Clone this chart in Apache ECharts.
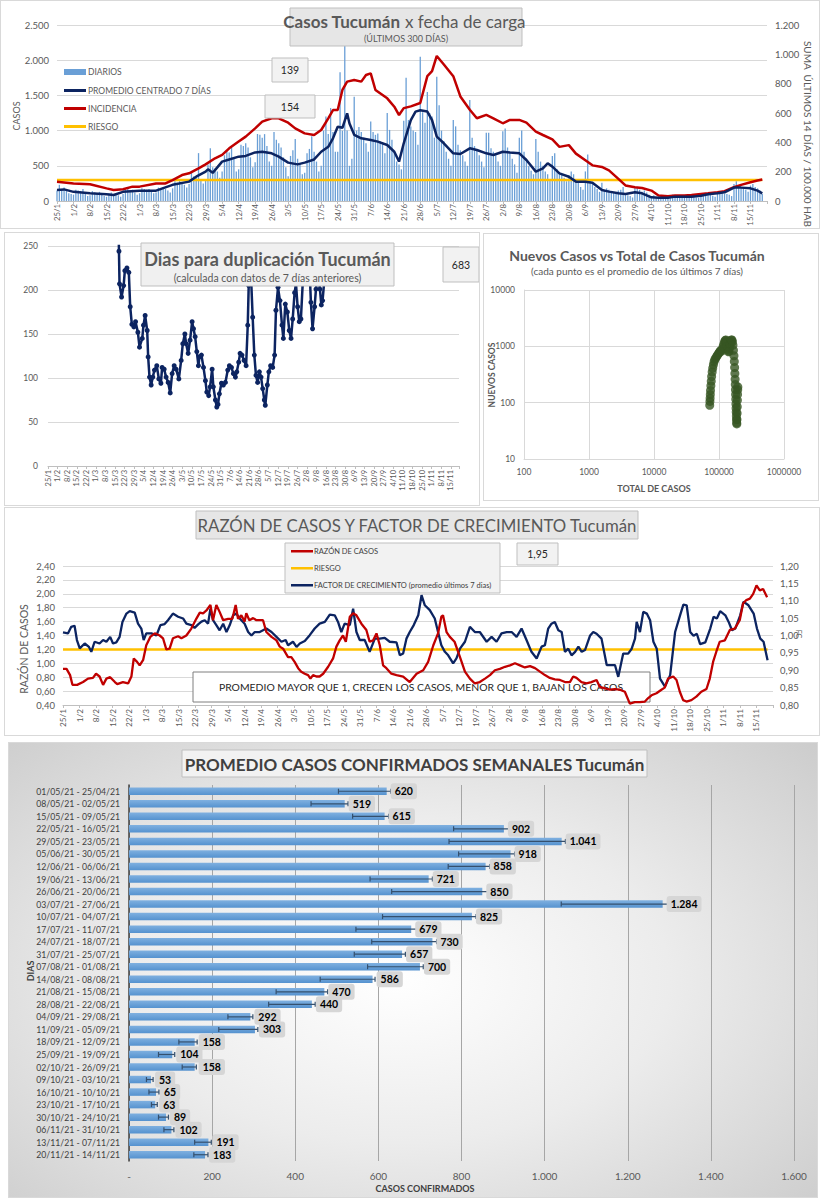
<!DOCTYPE html>
<html><head><meta charset="utf-8">
<script src="https://cdn.jsdelivr.net/npm/echarts/dist/echarts.min.js"></script>
<style>
html,body{margin:0;padding:0;background:#fff;}
body{width:820px;height:1200px;position:relative;overflow:hidden;}
.p{position:absolute;box-sizing:border-box;border:1px solid #d9d9d9;background:#fff;}
#c5{background:radial-gradient(ellipse 75% 80% at 48% 52%, #ffffff 0%, #ececec 45%, #c9c9c9 100%);}
</style></head><body>
<div id="c1" class="p" style="left:0;top:0;width:820px;height:229px"></div>
<div id="c2" class="p" style="left:4px;top:232px;width:476px;height:274px"></div>
<div id="c3" class="p" style="left:483px;top:233px;width:336px;height:268px"></div>
<div id="c4" class="p" style="left:4px;top:507px;width:816px;height:229px"></div>
<div id="c5" class="p" style="left:8px;top:742px;width:810px;height:456px"></div>
<script>
const FONT = "Lato, 'Noto Sans', sans-serif";
const GREY = '#595959';

// ---------- shared x ticks (weekly) ----------
const weekLabels = ['25/1','1/2','8/2','15/2','22/2','1/3','8/3','15/3','22/3','29/3','5/4','12/4','19/4','26/4','3/5','10/5','17/5','24/5','31/5','7/6','14/6','21/6','28/6','5/7','12/7','19/7','26/7','2/8','9/8','16/8','23/8','30/8','6/9','13/9','20/9','27/9','4/10','11/10','18/10','25/10','1/11','8/11','15/11'];

// ---------- chart 1: daily cases (25/1 .. 20/11) ----------
const dailyCases = [
150,230,160,190,140,110,100,
90,160,150,140,170,110,70,
80,140,120,110,130,90,70,
60,110,120,100,100,80,60,
100,160,170,150,160,120,90,
110,180,170,160,170,140,110,
120,190,180,200,170,150,120,
180,280,260,290,250,230,190,
240,400,350,330,680,300,250,
300,520,750,480,460,420,330,
420,650,720,690,760,600,420,
450,800,780,820,760,620,480,
550,950,940,900,950,780,560,
500,980,870,820,760,620,480,
350,640,720,880,600,520,380,
400,680,740,920,700,560,420,
500,1000,1200,950,1320,980,700,
700,1830,1000,2200,1000,500,600,
1480,1000,1050,980,900,820,700,
1130,980,940,960,850,830,680,
1250,1010,870,700,560,520,450,
1140,1750,1150,1060,1000,980,800,
2050,1260,1110,1550,1250,1200,900,
1766,1360,1000,850,700,600,500,
1150,1060,800,720,650,560,500,
1435,900,780,720,650,560,480,
970,970,750,700,650,560,500,
990,1030,760,700,600,520,400,
900,1000,700,600,500,430,380,
880,700,560,500,420,380,300,
640,680,450,400,370,330,280,
370,420,380,300,260,200,160,
420,660,300,260,200,170,130,
260,150,180,160,140,120,100,
150,160,200,110,80,70,50,
200,190,160,130,150,120,90,
70,80,60,50,45,40,30,
50,70,90,70,60,55,45,
70,80,75,65,60,50,45,
90,110,100,95,85,75,60,
120,130,115,105,100,90,70,
240,280,210,190,170,160,130,
220,240,200,180,150,100];

const avg7 = [[0,156],[3,165],[7,130],[14,110],[21,95],[24,85],[28,130],[35,147],[42,147],[49,230],[56,275],[59,345],[63,417],[64,450],[66,400],[70,560],[73,590],[77,630],[80,640],[84,690],[87,700],[91,677],[94,630],[98,545],[102,520],[105,545],[109,590],[112,700],[115,770],[117,890],[119,1055],[121,1040],[123,1245],[124,1100],[126,940],[129,890],[133,866],[136,843],[140,795],[143,700],[145,560],[147,820],[150,1150],[152,1270],[154,1290],[157,1270],[159,1150],[161,914],[164,820],[168,677],[171,668],[175,748],[178,725],[182,677],[185,653],[189,700],[192,690],[196,677],[199,582],[203,417],[206,464],[208,535],[210,488],[213,393],[217,345],[220,275],[224,275],[227,260],[231,156],[234,133],[238,109],[241,100],[245,123],[248,109],[252,52],[255,47],[259,47],[262,62],[266,62],[269,62],[273,76],[276,95],[280,109],[283,123],[287,190],[290,190],[294,180],[297,147],[299,109]];

const incidence = [[0,132],[7,120],[14,114],[21,86],[24,75],[28,80],[32,98],[35,98],[42,120],[46,120],[49,143],[53,177],[56,189],[60,223],[63,250],[67,291],[70,314],[73,359],[77,405],[80,439],[84,495],[87,541],[91,564],[94,564],[98,534],[101,495],[105,461],[109,450],[112,484],[115,564],[117,620],[119,620],[121,757],[123,814],[126,825],[129,814],[131,859],[133,870],[135,757],[140,700],[143,643],[145,586],[147,633],[150,645],[154,668],[157,851],[159,885],[161,989],[164,931],[168,851],[171,713],[175,622],[178,564],[182,587],[185,564],[189,530],[192,553],[196,553],[199,534],[203,473],[206,450],[210,420],[213,369],[217,381],[220,323],[224,278],[227,243],[231,232],[234,209],[238,151],[241,106],[245,94],[248,89],[252,71],[255,37],[259,32],[262,37],[266,37],[269,41],[273,48],[276,53],[280,60],[283,67],[287,94],[290,110],[294,128],[297,140],[299,147]];

const riskCases = [[0,300],[299,300]];

// ---------- chart 2: doubling days ----------
const dupData = [[51.6,262],[51.8,244],[52.2,207],[53.7,192],[55.2,205],[56.1,222],[57.6,225],[59,220],[60,181],[61.2,161],[62.7,158],[63.9,164],[65.6,152],[66.8,135],[68.8,145],[69.7,160],[70.9,171],[72.4,154],[73.1,124],[74.1,101],[75.3,92],[76.5,101],[77.7,109],[79.4,114],[80.9,99],[82.4,94],[83.3,112],[84.8,110],[86.2,101],[87.7,95],[89.2,83],[90.6,105],[92.1,114],[93.5,110],[95.5,99],[97.2,120],[98.4,139],[99.9,150],[100.8,139],[102.3,128],[103.7,143],[105.2,164],[106.2,156],[107.4,147],[108.6,130],[109.8,114],[110.5,124],[112,126],[113.5,112],[114.9,97],[115.9,84],[117.3,80],[118.3,90],[119.8,110],[120.7,90],[122.2,75],[123.2,67],[124.1,70],[125.1,82],[126.6,94],[128,92],[129.5,95],[131.2,109],[132.4,114],[133.9,112],[135.3,105],[136.8,101],[137.8,107],[139.2,118],[140.2,128],[141.6,126],[143.1,120],[144.6,114],[145.8,160],[146.5,205],[147.3,275],[148.4,207],[149.4,169],[150.6,126],[151.8,103],[153,95],[154.3,107],[155.5,101],[156.7,88],[157.9,75],[158.6,69],[160.1,92],[161.2,107],[162.5,114],[164,112],[165.4,126],[166.4,177],[167.9,203],[169.3,188],[170.8,160],[171.8,145],[173.2,184],[174.7,175],[176.1,154],[177.4,145],[178.6,167],[180,197],[181,207],[182.2,181],[183.4,164],[184.6,167],[185.9,207],[187.1,275],[188.3,211],[189.5,270],[190.7,232],[191.9,186],[193.1,156],[194.6,181],[195.6,201],[197,220],[198.5,201],[199.5,183],[200.4,188],[201.7,211],[202.3,290]];

// ---------- chart 3: new vs total (log-log) ----------
const scatterPts = [[72000,90],[72500,105],[73000,120],[73500,140],[74000,165],[75000,200],[76000,240],[77000,290],[78500,350],[80000,410],[82000,470],[84000,530],[86000,580],[89000,620],[92000,660],[95000,700],[98000,740],[101000,780],[104000,820],[107000,850],[110000,820],[113000,900],[116000,1000],[119000,1100],[122000,1200],[125000,1280],[128000,1300],[131000,1200],[134000,1000],[137000,880],[140000,800],[143000,820],[146000,950],[149000,1100],[152000,1220],[155000,1300],[158000,1300],[161000,1200],[164000,1050],[167000,850],[170000,680],[172000,540],[174000,420],[175500,330],[177000,260],[178000,210],[179000,170],[180000,140],[181000,115],[182000,95],[183000,80],[184000,68],[185000,58],[186000,50],[187000,44],[188000,42],[189000,50],[190000,65],[191000,85],[192000,110],[193000,140],[194000,170],[195000,190]];

// ---------- chart 4: ratio & growth factor ----------
const ratioCases = [[0,0.92],[1.5,0.92],[3,0.83],[4,0.69],[6,0.69],[8.5,0.73],[10.6,0.78],[12.7,0.79],[14,0.85],[15.5,0.81],[17,0.69],[18.4,0.78],[20,0.80],[22,0.73],[23,0.70],[25.4,0.73],[27.6,0.71],[29,0.81],[30,1.07],[31.4,1.02],[32.5,0.97],[34,1.05],[35.3,1.26],[37,1.38],[38.9,1.43],[41,1.40],[42.4,1.36],[43.8,1.20],[45.2,1.21],[46.6,1.36],[48.8,1.39],[50.2,1.36],[52.3,1.40],[54.4,1.50],[56.5,1.64],[58,1.73],[59.4,1.72],[60.8,1.76],[62.5,1.84],[63.6,1.62],[65,1.84],[66.4,1.74],[67.9,1.62],[70,1.64],[71.8,1.64],[73.2,1.84],[74.2,1.64],[75.6,1.69],[77,1.60],[77.7,1.72],[79,1.62],[80.6,1.65],[82,1.62],[84.8,1.62],[86.2,1.45],[88.4,1.38],[90.5,1.33],[91.9,1.24],[93.3,1.21],[95.4,1.09],[96.8,1.09],[98.2,1.02],[99.7,0.93],[101,0.88],[102.5,0.85],[103.9,0.83],[104.9,0.78],[106,0.83],[107.4,0.81],[108.8,0.81],[110.3,0.85],[112.4,0.95],[114.5,1.07],[115.9,1.24],[117.3,1.33],[118.7,1.40],[119.9,1.31],[121.6,1.67],[123,1.72],[124.4,1.69],[126.5,1.57],[128.6,1.48],[130,1.31],[131.5,1.33],[132.9,1.43],[134.3,1.26],[135.7,0.97],[137.1,0.93],[139.2,0.85],[141.4,0.83],[144.2,0.81],[147,0.73],[149.9,0.85],[152.7,0.90],[154.8,1.02],[157,1.26],[159,1.43],[160.4,1.67],[161.1,1.69],[162.6,1.45],[164,1.38],[166,1.31],[168.3,1.09],[170.4,0.88],[172.5,0.78],[174.6,0.71],[176.7,0.73],[178.9,0.78],[181,0.83],[183.1,0.90],[185.2,0.92],[187.4,0.95],[189.5,0.97],[191.6,1.00],[193.7,0.97],[195.8,0.94],[198,0.96],[200.1,0.93],[202.2,0.88],[204.3,0.83],[206.4,0.79],[208.5,0.77],[210.7,0.76],[212.8,0.73],[214.9,0.73],[216.3,0.81],[217.7,0.79],[219.8,0.73],[221.9,0.71],[224,0.73],[226.2,0.76],[227.6,0.66],[229.7,0.64],[231.8,0.62],[234,0.63],[236.1,0.62],[238.2,0.59],[240.3,0.42],[242.4,0.44],[244.5,0.44],[246.7,0.45],[248.1,0.50],[249.5,0.54],[251.6,0.57],[253.7,0.62],[255.1,0.65],[256.5,0.78],[258.7,0.81],[260.1,0.76],[261.5,0.59],[262.9,0.47],[264.3,0.45],[266.4,0.47],[268.5,0.52],[270.6,0.59],[272.8,0.63],[274.2,0.78],[275.6,1.02],[277,1.17],[278.4,1.31],[280.6,1.33],[282.7,1.48],[284.8,1.50],[286.9,1.62],[288.3,1.86],[289.7,1.91],[291.2,1.93],[292.6,2.00],[294,2.12],[295.4,2.05],[296.8,2.07],[298.5,1.95]];

const growthFactor = [[0,1.009],[2.1,1.006],[3.5,1.025],[4.9,1.028],[5.9,0.987],[7.1,0.963],[9.2,0.977],[11,0.967],[12,0.953],[13.4,0.982],[15.5,0.977],[17,0.987],[18.4,0.982],[20,0.996],[21.2,0.977],[22.6,0.980],[24,0.996],[25.2,1.039],[26.9,1.063],[28.3,1.070],[30.4,1.066],[31.8,1.034],[33.2,1.020],[34.2,0.987],[35.3,1.006],[37.5,1.006],[39.6,1.000],[41.3,1.030],[43.1,1.033],[44.5,1.044],[46.6,1.063],[48.8,1.054],[50.9,1.049],[52.3,1.034],[54.4,1.030],[55.8,1.022],[57.3,1.032],[58.7,1.040],[60.1,1.044],[61.5,1.034],[62.5,1.077],[63.6,1.044],[65,1.030],[66.4,1.015],[67.9,1.034],[69.3,1.010],[70.7,1.030],[72.1,1.058],[73.5,1.063],[74.9,1.049],[77,1.034],[78.5,1.010],[79.9,1.000],[81.3,1.010],[83.4,1.010],[86.2,1.020],[88.4,1.010],[90.5,0.996],[92.6,0.982],[94.4,0.987],[95.4,0.972],[97.5,0.982],[99,0.967],[100.4,0.977],[102.5,0.984],[104.6,1.001],[106.7,1.020],[108.8,1.034],[111,1.039],[113.1,1.060],[115.2,1.058],[116.6,1.039],[118,1.010],[119.4,1.034],[121.6,1.030],[123,1.077],[124.4,1.010],[125.8,0.987],[127.9,0.987],[130,0.953],[132.2,0.991],[134.3,0.991],[136.4,0.993],[138.5,0.982],[141.4,0.980],[142.8,0.943],[144.2,0.948],[145.6,0.991],[147,1.010],[148.7,1.030],[150.6,1.058],[152,1.116],[153.4,1.087],[155.5,1.073],[157.6,1.049],[159,1.010],[160.4,0.972],[161.9,0.953],[163.3,0.943],[165.4,0.920],[166.8,0.934],[168.3,0.962],[170.4,0.982],[172.5,1.025],[174.6,1.010],[176.7,1.010],[179.6,0.982],[181.7,0.996],[183.8,0.982],[185.9,1.006],[188.1,1.010],[190.2,1.010],[192.3,0.996],[194.4,1.020],[196.5,0.987],[198.6,0.953],[200.8,0.934],[202.9,0.968],[204.3,0.972],[205.7,1.020],[207.1,1.034],[208.5,1.039],[210,1.015],[211.4,1.010],[212.8,0.953],[214.2,0.962],[215.6,0.943],[217.1,0.953],[218.5,0.968],[219.9,0.953],[221.3,0.958],[223.4,0.999],[224.8,1.010],[226.2,1.005],[228.3,0.991],[230.5,0.915],[232.6,0.915],[234,0.915],[235.4,0.881],[237.5,0.948],[239.6,0.948],[241.1,0.962],[242.5,0.991],[243.2,1.039],[244.6,1.010],[246,1.068],[247.5,1.063],[248.9,1.044],[250.3,0.982],[251.7,0.962],[253.1,0.876],[255.2,0.853],[257.4,0.886],[259.5,1.010],[261.6,1.058],[263,1.089],[264.4,1.087],[265.9,1.010],[267.3,0.999],[268.7,1.005],[270.1,0.975],[272.3,0.980],[274.4,1.020],[275.8,1.054],[277.2,1.049],[278.6,1.070],[280.8,1.058],[282.2,1.039],[283.6,1.015],[285,1.020],[287.1,1.058],[288.5,1.097],[290.6,1.087],[292.8,1.063],[294.2,1.020],[295.6,0.991],[297,0.982],[298.7,0.929]];

const ratioRisk = [[0,1.2],[298.7,1.2]];

// ---------- chart 5: weekly averages ----------
const weekRanges = ['01/05/21 - 25/04/21','08/05/21 - 02/05/21','15/05/21 - 09/05/21','22/05/21 - 16/05/21','29/05/21 - 23/05/21','05/06/21 - 30/05/21','12/06/21 - 06/06/21','19/06/21 - 13/06/21','26/06/21 - 20/06/21','03/07/21 - 27/06/21','10/07/21 - 04/07/21','17/07/21 - 11/07/21','24/07/21 - 18/07/21','31/07/21 - 25/07/21','07/08/21 - 01/08/21','14/08/21 - 08/08/21','21/08/21 - 15/08/21','28/08/21 - 22/08/21','04/09/21 - 29/08/21','11/09/21 - 05/09/21','18/09/21 - 12/09/21','25/09/21 - 19/09/21','02/10/21 - 26/09/21','09/10/21 - 03/10/21','16/10/21 - 10/10/21','23/10/21 - 17/10/21','30/10/21 - 24/10/21','06/11/21 - 31/10/21','13/11/21 - 07/11/21','20/11/21 - 14/11/21'];
const weeklyAvg = [620,519,615,902,1041,918,858,721,850,1284,825,679,730,657,700,586,470,440,292,303,158,104,158,53,65,63,89,102,191,183];
const errLow = [504,438,538,781,770,793,768,580,632,1040,610,546,584,542,574,460,354,336,238,216,120,71,128,42,48,54,71,84,158,156];
const errHigh = [630,527,625,970,1050,928,868,730,920,1296,835,749,740,665,708,592,478,448,298,310,164,110,162,58,72,68,95,108,198,190];

// ---------- helpers ----------
const fmtK = v => String(Math.round(v)).replace(/\B(?=(\d{3})+(?!\d))/g, '.');
const fmtDec = v => v.toFixed(2).replace('.', ',');
const wkFmt = v => (v % 7 === 0 && weekLabels[v / 7] !== undefined) ? weekLabels[v / 7] : '';
function box(x, y, w, h, fill, stroke, z) {
  return {type:'rect', z: z || 10, shape:{x, y, width:w, height:h}, style:{fill, stroke, lineWidth:1}};
}
function txt(x, y, text, size, opts) {
  opts = opts || {};
  return {type:'text', z: opts.z || 11, x, y, rotation: opts.rot || 0, style:{text, fill: opts.color || GREY, fontSize:size, fontFamily:FONT, fontWeight: opts.bold ? 'bold' : 'normal', align: opts.align || 'center', verticalAlign:'middle'}};
}
function mk(id) { return echarts.init(document.getElementById(id), null, {renderer:'svg'}); }

// ================= CHART 1 =================
const c1 = mk('c1');
c1.setOption({
  animation:false,
  textStyle:{fontFamily:FONT},
  grid:{left:56, right:52, top:24, bottom:27, outerBoundsMode:'none', containLabel:false},
  xAxis:{type:'value', min:0, max:301, interval:7,
    axisLabel:{rotate:90, fontSize:7.8, color:GREY, formatter:wkFmt, margin:3},
    axisLine:{lineStyle:{color:'#bfbfbf'}}, axisTick:{show:true, length:3, lineStyle:{color:'#bfbfbf'}},
    splitLine:{show:false}},
  yAxis:[
    {type:'value', min:0, max:2500, interval:500,
     axisLabel:{fontSize:9.5, color:GREY, formatter:fmtK}, axisLine:{show:false}, axisTick:{show:false},
     splitLine:{lineStyle:{color:'#d9d9d9'}}},
    {type:'value', min:0, max:1200, interval:200, position:'right',
     axisLabel:{fontSize:9.5, color:GREY, formatter:fmtK, margin:8}, axisLine:{show:false}, axisTick:{show:false}, splitLine:{show:false}}
  ],
  series:[
    {name:'DIARIOS', type:'bar', data:dailyCases.map((v,i)=>[i,v]), barWidth:1.3, itemStyle:{color:'#6a9fd6'}, z:1},
    {name:'RIESGO', type:'line', data:riskCases, showSymbol:false, lineStyle:{color:'#ffc000', width:2.5}, z:2},
    {name:'INCIDENCIA', type:'line', yAxisIndex:1, data:incidence, showSymbol:false, lineStyle:{color:'#c00000', width:2.5}, z:3},
    {name:'PROMEDIO CENTRADO 7 DÍAS', type:'line', data:avg7, showSymbol:false, lineStyle:{color:'#0c2461', width:2.5}, z:4}
  ],
  graphic:[
    box(289, 7, 232, 38, '#e6e6e6', '#bfbfbf'),
    txt(399, 20, 'Casos Tucumán', 17, {bold:true, align:'right'}),
    txt(404, 20, 'x fecha de carga', 17, {align:'left'}),
    txt(405, 37, '(ÚLTIMOS 300 DÍAS)', 9),
    box(271, 57, 36, 24, '#f2f2f2', '#bfbfbf'),
    txt(289, 69, '139', 10.5, {color:'#262626'}),
    box(264, 94, 50, 23, '#f2f2f2', '#bfbfbf'),
    txt(289, 106, '154', 10.5, {color:'#262626'}),
    {type:'rect', z:11, shape:{x:63, y:68, width:22, height:6}, style:{fill:'#6a9fd6'}},
    txt(87, 71, 'DIARIOS', 8.5, {align:'left'}),
    {type:'rect', z:11, shape:{x:63, y:88, width:22, height:3}, style:{fill:'#0c2461'}},
    txt(87, 89.5, 'PROMEDIO CENTRADO 7 DÍAS', 8.5, {align:'left'}),
    {type:'rect', z:11, shape:{x:63, y:106, width:22, height:3}, style:{fill:'#c00000'}},
    txt(87, 107.5, 'INCIDENCIA', 8.5, {align:'left'}),
    {type:'rect', z:11, shape:{x:63, y:124, width:22, height:3}, style:{fill:'#ffc000'}},
    txt(87, 125.5, 'RIESGO', 8.5, {align:'left'}),
    txt(15, 115, 'CASOS', 9, {rot:Math.PI/2}),
    txt(807, 133, 'SUMA  ÚLTIMOS 14 DÍAS / 100.000 HAB', 10, {rot:-Math.PI/2})
  ]
});

// ================= CHART 2 =================
const c2 = mk('c2');
c2.setOption({
  animation:false,
  textStyle:{fontFamily:FONT},
  grid:{left:43, right:20, top:13, bottom:39, outerBoundsMode:'none', containLabel:false},
  xAxis:{type:'value', min:0, max:300, interval:7,
    axisLabel:{rotate:90, fontSize:7.5, color:GREY, formatter:wkFmt, margin:4},
    axisLine:{lineStyle:{color:'#bfbfbf'}}, axisTick:{show:true, length:3, lineStyle:{color:'#bfbfbf'}}, splitLine:{show:false}},
  yAxis:{type:'value', min:0, max:250, interval:50,
    axisLabel:{fontSize:8.5, color:GREY, margin:10}, axisLine:{show:false}, axisTick:{show:false},
    splitLine:{lineStyle:{color:'#d9d9d9'}}},
  series:[{type:'line', data:dupData, symbol:'circle', symbolSize:5, clip:true,
    itemStyle:{color:'#0c2461'}, lineStyle:{color:'#0c2461', width:2.5}}],
  graphic:[
    box(136, 10, 253, 43, '#f0f0f0', '#bfbfbf'),
    txt(262.5, 26, 'Dias para duplicación Tucumán', 18, {bold:true}),
    txt(262.5, 45, '(calculada con datos de 7 días anteriores)', 10.5),
    box(438, 14, 36, 35, '#f2f2f2', '#bfbfbf'),
    txt(456, 32, '683', 10.5, {color:'#262626'})
  ]
});

// ================= CHART 3 =================
const c3 = mk('c3');
c3.setOption({
  animation:false,
  textStyle:{fontFamily:FONT},
  grid:{left:40, right:34, top:56, bottom:41, outerBoundsMode:'none', containLabel:false},
  xAxis:{type:'log', logBase:10, min:100, max:1000000,
    axisLabel:{fontSize:8.5, color:GREY, formatter:v=>String(v), margin:8},
    axisLine:{lineStyle:{color:'#d9d9d9'}}, axisTick:{show:false}, splitLine:{lineStyle:{color:'#d9d9d9'}}},
  yAxis:{type:'log', logBase:10, min:10, max:10000,
    axisLabel:{fontSize:8.5, color:GREY, formatter:v=>String(v), margin:9},
    axisLine:{lineStyle:{color:'#d9d9d9'}}, axisTick:{show:false}, splitLine:{lineStyle:{color:'#d9d9d9'}}},
  series:[{type:'scatter', data:scatterPts, symbol:'circle', symbolSize:9, itemStyle:{color:'#375623'}}],
  graphic:[
    txt(153, 21, 'Nuevos Casos vs Total de Casos Tucumán', 14, {bold:true}),
    txt(153, 37, '(cada punto es el promedio de los últimos 7 días)', 10),
    txt(170, 254, 'TOTAL DE CASOS', 9, {bold:true}),
    txt(8, 141, 'NUEVOS CASOS', 8.5, {bold:true, rot:Math.PI/2})
  ]
});

// ================= CHART 4 =================
const c4 = mk('c4');
c4.setOption({
  animation:false,
  textStyle:{fontFamily:FONT},
  grid:{left:58, right:46, top:58, bottom:30, outerBoundsMode:'none', containLabel:false},
  xAxis:{type:'value', min:0, max:301, interval:7,
    axisLabel:{rotate:90, fontSize:8.2, color:GREY, formatter:wkFmt, margin:4},
    axisLine:{lineStyle:{color:'#bfbfbf'}}, axisTick:{show:true, length:3, lineStyle:{color:'#bfbfbf'}}, splitLine:{show:false}},
  yAxis:[
    {type:'value', min:0.4, max:2.4, interval:0.2,
     axisLabel:{fontSize:9.5, color:GREY, formatter:fmtDec}, axisLine:{show:false}, axisTick:{show:false},
     splitLine:{lineStyle:{color:'#d9d9d9'}}},
    {type:'value', min:0.8, max:1.2, interval:0.05, position:'right',
     axisLabel:{fontSize:9.5, color:GREY, formatter:fmtDec, margin:7}, axisLine:{show:false}, axisTick:{show:false}, splitLine:{show:false}}
  ],
  series:[
    {name:'RIESGO', type:'line', data:ratioRisk, showSymbol:false, lineStyle:{color:'#ffc000', width:2.5}, z:2},
    {name:'FACTOR DE CRECIMIENTO (promedio últimos 7 días)', type:'line', yAxisIndex:1, data:growthFactor, showSymbol:false, lineStyle:{color:'#0c2461', width:2.3}, z:3},
    {name:'RAZÓN DE CASOS', type:'line', data:ratioCases, showSymbol:false, lineStyle:{color:'#c00000', width:2.3}, z:4}
  ],
  graphic:[
    box(191, 3, 442, 28, '#e6e6e6', '#bfbfbf'),
    txt(412, 17.5, 'RAZÓN DE CASOS Y FACTOR DE CRECIMIENTO Tucumán', 16.8),
    box(280, 35, 215, 50, '#f2f2f2', '#bfbfbf'),
    {type:'rect', z:11, shape:{x:286, y:42, width:22, height:2.5}, style:{fill:'#c00000'}},
    txt(309, 43.5, 'RAZÓN DE CASOS', 7.5, {align:'left', color:'#404040'}),
    {type:'rect', z:11, shape:{x:286, y:59, width:22, height:2.5}, style:{fill:'#ffc000'}},
    txt(309, 60.5, 'RIESGO', 7.5, {align:'left', color:'#404040'}),
    {type:'rect', z:11, shape:{x:286, y:76, width:22, height:2.5}, style:{fill:'#0c2461'}},
    txt(309, 77.5, 'FACTOR DE CRECIMIENTO (promedio últimos 7 dias)', 7.5, {align:'left', color:'#404040'}),
    box(512, 35, 41, 22, '#f2f2f2', '#bfbfbf'),
    txt(532.5, 46, '1,95', 10.5, {color:'#262626'}),
    txt(19, 141, 'RAZÓN DE CASOS', 10.5, {rot:Math.PI/2}),
    txt(794, 126, 'FC', 7, {rot:-Math.PI/2}),
    {type:'rect', z:1, shape:{x:188, y:164, width:457, height:30}, style:{fill:'#ffffff', stroke:'#7f7f7f', lineWidth:1}},
    {type:'text', z:1, x:416, y:179, style:{text:'PROMEDIO MAYOR QUE 1, CRECEN LOS CASOS, MENOR QUE 1, BAJAN LOS CASOS', fill:'#262626', fontSize:10.4, fontFamily:FONT, align:'center', verticalAlign:'middle'}}
  ]
});

// ================= CHART 5 =================
const c5 = mk('c5');
function renderErr(params, api) {
  const c = api.value(0);
  const lo = api.coord([api.value(1), c]);
  const hi = api.coord([api.value(2), c]);
  const h = 5;
  const st = {stroke:'#35506e', lineWidth:1.2};
  return {type:'group', children:[
    {type:'line', shape:{x1:lo[0], y1:lo[1], x2:hi[0], y2:hi[1]}, style:st},
    {type:'line', shape:{x1:lo[0], y1:lo[1]-h/2, x2:lo[0], y2:lo[1]+h/2}, style:st},
    {type:'line', shape:{x1:hi[0], y1:hi[1]-h/2, x2:hi[0], y2:hi[1]+h/2}, style:st}
  ]};
}
c5.setOption({
  animation:false,
  textStyle:{fontFamily:FONT},
  grid:{left:120, right:23, top:42, bottom:36, outerBoundsMode:'none', containLabel:false},
  xAxis:{type:'value', min:0, max:1600, interval:200,
    axisLabel:{fontSize:10, color:GREY, formatter:v => v === 0 ? '-' : fmtK(v), margin:10},
    axisLine:{show:false}, axisTick:{show:false}, splitLine:{lineStyle:{color:'#a6a6a6'}}},
  yAxis:{type:'category', inverse:true, data:weekRanges,
    axisLabel:{fontSize:8.7, color:'#404040', margin:9, interval:0},
    axisLine:{lineStyle:{color:'#404040', width:1.5}}, axisTick:{show:false}},
  series:[
    {type:'bar', data:weeklyAvg, barWidth:7.5, z:2,
     itemStyle:{color:{type:'linear', x:0, y:0, x2:0, y2:1, colorStops:[{offset:0, color:'#7fb0e0'}, {offset:1, color:'#5592cf'}]}}},
    {type:'custom', renderItem:renderErr, data:weeklyAvg.map((v,i)=>[i, errLow[i], errHigh[i]]), encode:{y:0, x:[1,2]}, z:3},
    {type:'bar', data:weeklyAvg, barWidth:7.5, barGap:'-100%', z:4, itemStyle:{color:'rgba(0,0,0,0)'},
     label:{show:true, position:'right', distance:4, formatter:p => fmtK(p.value), fontSize:10.5, fontWeight:'bold', color:'#000',
            backgroundColor:'#d6d6d6', borderRadius:3, padding:[3,4,2,4]}}
  ],
  graphic:[
    box(173, 7, 465, 27, '#f2f2f2', '#bfbfbf'),
    txt(405.5, 21, 'PROMEDIO CASOS CONFIRMADOS SEMANALES Tucumán', 17, {bold:true, color:'#404040'}),
    txt(416, 445, 'CASOS CONFIRMADOS', 9, {bold:true, color:'#404040'}),
    {type:'text', z:11, x:21, y:228, rotation:Math.PI/2, style:{text:'DIAS', fill:'#404040', fontSize:9, fontWeight:'bold', fontFamily:FONT, align:'center', verticalAlign:'middle'}}
  ]
});
</script>
</body></html>
